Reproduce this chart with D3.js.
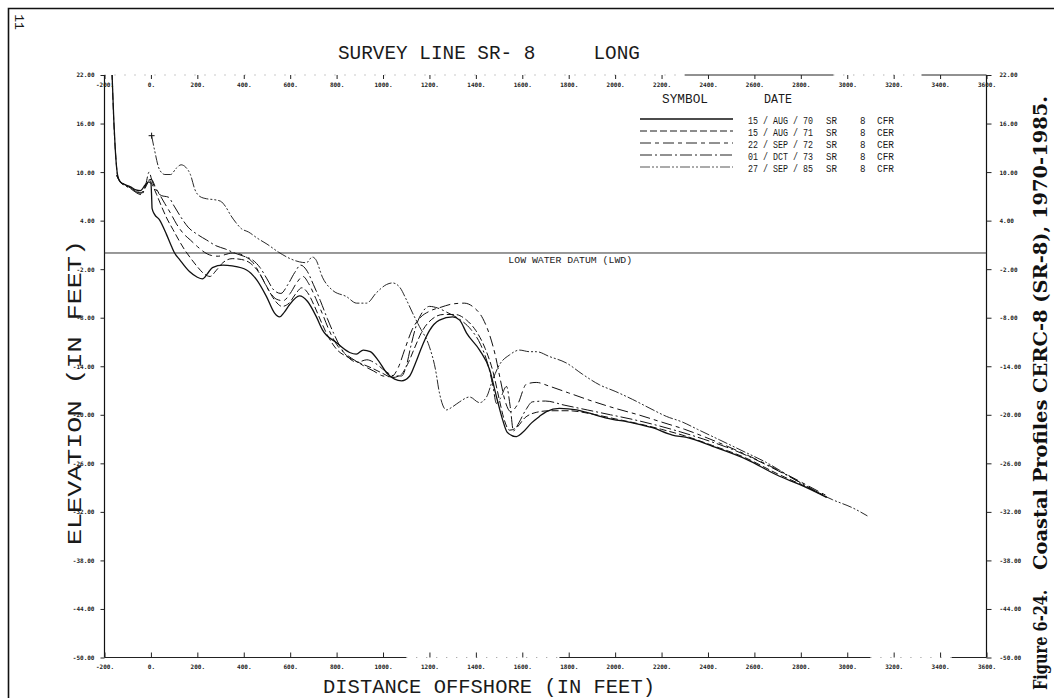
<!DOCTYPE html>
<html>
  <head>
    <meta charset="utf-8">
    <title>Survey line SR-8</title>
    <script src="https://d3js.org/d3.v7.min.js"></script>
    <style>
      body { margin: 0; background: #fff; }
      svg text { font-family: "Liberation Mono", "DejaVu Sans Mono", monospace; fill: #1a1a1a; }
      .tick text { font-family: "DejaVu Sans Mono", monospace; font-size: 6px; font-weight: bold; fill: #222; }
      .tick line { stroke: #222; }
      .domain { display: none; }
      .profile { fill: none; stroke: #111; }
      .caption { font-family: "DejaVu Serif", "Liberation Serif", serif; font-weight: bold; font-size: 18px; fill: #111; }
    </style>
  </head>
  <body>
    <svg id="chart" width="1054" height="698"></svg>
    <script>

// ---- axis ticks
var xTicks = [-200, 0, 200, 400, 600, 800, 1000, 1200, 1400, 1600, 1800,
              2000, 2200, 2400, 2600, 2800, 3000, 3200, 3400, 3600];
var yTicks = [22, 16, 10, 4, -2, -8, -14, -20, -26, -32, -38, -44, -50];

// ---- legend text
var surveyDates = ["15 / AUG / 70", "15 / AUG / 71", "22 / SEP / 72", "01 / DCT / 73", "27 / SEP / 85"];
var surveyLines = ["SR", "SR", "SR", "SR", "SR"];
var surveyNumbers = ["8", "8", "8", "8", "8"];
var surveyAgency = ["CFR", "CER", "CER", "CFR", "CFR"];

// ---- profiles [distance offshore (ft), elevation (ft)]
var p1970 = [[-172,26],[-166,21],[-160,16.5],[-154,13],[-148,10.6],[-142,9.4],[-132,8.8],[-115,8.5],[-90,8.2],
  [-65,7.8],[-45,7.7],[-25,8.4],[-10,8.8],[0,8.6],[3,7.0],[5,5.5],[15,4.8],[37,4.1],[67,2.3],[89,0.8],[102,0.0],
  [123,-0.8],[166,-2.3],[200,-3.0],[222,-3.2],[245,-2.5],[265,-1.8],[310,-1.5],[350,-1.6],[412,-2.1],[455,-3.3],
  [498,-5.4],[532,-7.4],[554,-7.9],[575,-7.3],[597,-6.4],[640,-5.3],[675,-6.0],[713,-7.9],[739,-9.5],[800,-11.1],
  [856,-12.3],[885,-12.5],[915,-12.0],[945,-12.2],[980,-13.3],[1015,-14.8],[1050,-15.6],[1080,-15.8],[1115,-15.2],
  [1140,-13.6],[1170,-11.4],[1200,-9.6],[1243,-8.3],[1300,-7.9],[1330,-8.3],[1360,-9.9],[1416,-12.0],[1459,-14.4],
  [1489,-17.8],[1515,-20.6],[1536,-22.2],[1575,-22.7],[1601,-22.2],[1640,-21.0],[1674,-20.2],[1704,-19.6],
  [1760,-19.2],[1834,-19.4],[1877,-19.7],[1963,-20.4],[2075,-21.0],[2161,-21.6],[2247,-22.5],[2308,-22.8],
  [2420,-23.9],[2566,-25.5],[2708,-27.6],[2794,-28.6],[2911,-30.2]];

var p1971 = [[-172,26],[-165,20],[-158,15],[-151,11.8],[-144,9.6],[-132,8.8],[-110,8.4],[-85,8.0],[-60,7.6],
  [-40,7.4],[-20,8.3],[-6,9.0],[8,8.3],[25,7.2],[45,5.8],[70,4.2],[95,2.9],[120,1.6],[145,0.4],[170,-0.6],
  [200,-1.7],[230,-2.6],[255,-2.9],[280,-2.2],[310,-1.2],[350,-0.7],[390,-0.8],[430,-1.3],[465,-2.4],[500,-4.2],
  [535,-5.9],[565,-6.6],[595,-6.2],[625,-5.0],[650,-4.3],[675,-4.9],[705,-6.6],[735,-8.6],[765,-10.4],[800,-11.9],
  [850,-12.9],[900,-13.6],[950,-14.2],[1000,-14.9],[1040,-15.4],[1075,-15.1],[1105,-13.8],[1135,-11.8],
  [1170,-9.6],[1210,-8.2],[1260,-7.6],[1310,-7.6],[1360,-8.3],[1400,-9.6],[1440,-11.8],[1475,-14.8],[1500,-18.0],
  [1520,-20.4],[1545,-21.9],[1575,-21.6],[1610,-20.4],[1660,-19.7],[1720,-19.5],[1800,-19.5],[1900,-19.9],
  [2000,-20.5],[2100,-21.1],[2200,-21.8],[2300,-22.6],[2420,-23.8],[2560,-25.3],[2700,-27.3],[2800,-28.6],
  [2911,-30.1]];

var p1972 = [[-148,9.6],[-135,8.9],[-115,8.4],[-90,8.1],[-65,7.6],[-45,7.4],[-25,8.2],[-10,9.0],[2,9.1],[20,8.1],
  [40,7.1],[60,6.1],[85,4.9],[110,3.6],[140,2.4],[170,1.6],[200,0.8],[230,0.1],[260,-0.3],[290,-0.4],[320,-0.2],
  [350,0.0],[380,-0.1],[410,-0.5],[440,-1.2],[470,-2.6],[505,-4.5],[540,-5.7],[570,-5.9],[600,-5.0],[630,-3.6],
  [655,-2.9],[680,-3.8],[710,-5.6],[740,-7.6],[770,-9.7],[800,-11.3],[840,-12.5],[880,-13.3],[920,-14.0],
  [960,-14.6],[1000,-15.2],[1035,-15.3],[1065,-14.2],[1095,-11.8],[1125,-9.5],[1160,-8.0],[1200,-7.2],
  [1250,-6.7],[1300,-6.3],[1350,-6.2],[1390,-6.7],[1430,-8.1],[1460,-10.2],[1485,-12.8],[1505,-15.6],
  [1525,-18.2],[1550,-19.6],[1580,-18.7],[1618,-16.2],[1660,-16.0],[1720,-16.5],[1800,-17.3],[1900,-18.3],
  [2000,-19.2],[2100,-20.0],[2200,-20.9],[2300,-21.8],[2400,-22.9],[2500,-24.1],[2600,-25.4],[2700,-26.8],
  [2800,-28.3],[2911,-30.0]];

var p1973 = [[-148,9.6],[-130,8.7],[-110,8.3],[-85,7.9],[-60,7.4],[-40,7.2],[-22,8.5],[-8,10.0],[4,9.0],[20,7.9],
  [45,7.1],[75,6.9],[100,5.8],[130,4.4],[160,3.2],[200,2.3],[240,1.6],[280,0.9],[320,0.5],[360,0.0],[400,-0.4],
  [440,-0.9],[470,-1.8],[500,-3.2],[530,-4.6],[560,-5.0],[590,-3.9],[620,-2.4],[645,-1.5],[670,-2.1],[700,-3.9],
  [730,-5.9],[760,-8.1],[790,-10.1],[820,-11.8],[850,-12.9],[890,-13.5],[930,-13.2],[970,-13.7],[1010,-14.6],
  [1050,-15.2],[1080,-15.2],[1100,-14.0],[1120,-11.5],[1145,-8.8],[1170,-7.3],[1200,-6.6],[1235,-6.8],
  [1280,-7.4],[1330,-8.2],[1380,-9.5],[1420,-11.3],[1450,-13.6],[1472,-16.2],[1489,-18.6],[1505,-18.0],
  [1532,-16.5],[1548,-19.0],[1562,-22.0],[1585,-21.0],[1615,-19.4],[1644,-18.4],[1700,-18.3],[1780,-18.8],
  [1880,-19.4],[1980,-20.0],[2080,-20.6],[2180,-21.3],[2280,-22.1],[2380,-23.0],[2480,-24.0],[2580,-25.2],
  [2680,-26.6],[2800,-28.4],[2911,-30.2]];

var p1985 = [[3,14.5],[15,12.8],[37,10.3],[60,9.7],[85,9.7],[110,10.5],[130,10.9],[150,10.6],[170,9.7],[190,7.8],
  [210,7.0],[240,6.7],[270,6.6],[300,6.4],[320,5.8],[345,4.6],[365,3.8],[390,3.0],[420,2.6],[460,1.8],[500,1.1],
  [550,0.1],[600,-0.7],[640,-1.1],[670,-1.2],[695,-0.5],[710,-0.8],[739,-3.0],[782,-4.6],[843,-5.4],[886,-6.2],
  [929,-6.2],[972,-4.9],[1015,-3.9],[1041,-3.7],[1071,-4.2],[1101,-5.8],[1127,-7.4],[1157,-9.1],[1200,-11.6],
  [1226,-14.4],[1243,-17.3],[1273,-19.4],[1300,-19.0],[1330,-18.4],[1373,-17.8],[1416,-18.5],[1446,-17.8],
  [1472,-15.7],[1502,-13.8],[1545,-12.6],[1588,-12.0],[1631,-12.2],[1661,-12.2],[1717,-12.8],[1790,-13.6],
  [1860,-15.0],[1933,-16.3],[2000,-17.1],[2075,-18.1],[2150,-19.2],[2221,-20.2],[2290,-20.9],[2355,-21.8],
  [2450,-23.1],[2566,-24.7],[2652,-25.9],[2751,-27.6],[2850,-29.3],[2937,-30.5],[3023,-31.5],[3087,-32.5]];

var profiles = [p1970, p1971, p1972, p1973, p1985];

// line styles for each survey
var dashes = ["none", "7,3", "11,4,4,4", "12,3,2,3", "10,2,2,2,2,2"];
var strokeW = [1.3, 1.0, 1.0, 1.0, 0.9];
var strokeC = ["#111", "#1a1a1a", "#222", "#222", "#444"];

// ---- layout
var svg = d3.select("#chart"),
    width = +svg.attr("width"),
    height = +svg.attr("height");

var plotLeft = 104.5, plotRight = 986.5, plotTop = 75, plotBottom = 657.5;

svg.append("rect").attr("width", width).attr("height", height).attr("fill", "#fff");

var x = d3.scaleLinear().domain([-200, 3600]).range([plotLeft, plotRight]);
var y = d3.scaleLinear().domain([-50, 22]).range([plotBottom, plotTop]);

var fmtX = function(d) { return d + "."; };
var fmtY = function(d) { return d.toFixed(2); };

// narrow plotter lettering: mono font squeezed sideways
function plotText(px, py, str, size, w) {
  var natural = str.length * 0.6 * size;
  return svg.append("text")
    .attr("transform", "translate(" + px + "," + py + ") scale(" + (w / natural).toFixed(3) + ",1)")
    .style("font-size", size + "px")
    .style("white-space", "pre")
    .text(str);
}

// page border and page number
svg.append("path")
  .attr("d", "M8.5," + height + "V8.5H" + width)
  .attr("fill", "none").attr("stroke", "#111").attr("stroke-width", 1.6);
svg.append("text")
  .attr("transform", "translate(15,22) rotate(90)")
  .attr("text-anchor", "middle")
  .style("font-size", "13px")
  .text("11");

// axis lines (scan left the top and part of the bottom broken)
function axisRun(yPos, from, to, dotted) {
  svg.append("line")
    .attr("x1", x(from)).attr("x2", x(to))
    .attr("y1", yPos).attr("y2", yPos)
    .attr("stroke", dotted ? "#777" : "#222")
    .attr("stroke-width", dotted ? 0.8 : 1)
    .attr("stroke-dasharray", dotted ? "1,9" : null);
}
axisRun(plotBottom, -200, 1100, false);
axisRun(plotBottom, 1100, 1760, true);
axisRun(plotBottom, 1760, 3100, false);
axisRun(plotBottom, 3100, 3450, true);
axisRun(plotBottom, 3450, 3600, false);
axisRun(plotTop, -200, 2300, true);
axisRun(plotTop, 2300, 2940, false);
axisRun(plotTop, 2940, 3320, true);
axisRun(plotTop, 3320, 3600, false);

svg.append("line").attr("x1", plotLeft).attr("x2", plotLeft)
  .attr("y1", plotTop).attr("y2", plotBottom).attr("stroke", "#111").attr("stroke-width", 1.2);
svg.append("line").attr("x1", plotRight).attr("x2", plotRight)
  .attr("y1", plotTop).attr("y2", plotBottom).attr("stroke", "#111").attr("stroke-width", 1.2);

// ticks
svg.append("g")
  .attr("transform", "translate(0," + plotBottom + ")")
  .call(d3.axisBottom(x).tickValues(xTicks).tickFormat(fmtX).tickSizeInner(-5).tickSizeOuter(0).tickPadding(7));
svg.append("g")
  .attr("transform", "translate(0," + plotTop + ")")
  .call(d3.axisBottom(x).tickValues(xTicks).tickFormat(fmtX).tickSizeInner(4).tickSizeOuter(0).tickPadding(4));
svg.append("g")
  .attr("transform", "translate(" + plotLeft + ",0)")
  .call(d3.axisLeft(y).tickValues(yTicks).tickFormat(fmtY).tickSizeInner(4).tickSizeOuter(0).tickPadding(6));
svg.append("g")
  .attr("transform", "translate(" + plotRight + ",0)")
  .call(d3.axisRight(y).tickValues(yTicks).tickFormat(fmtY).tickSizeInner(5).tickSizeOuter(0).tickPadding(8));

// low water datum
svg.append("line")
  .attr("x1", plotLeft).attr("x2", plotRight)
  .attr("y1", y(0)).attr("y2", y(0))
  .attr("stroke", "#333").attr("stroke-width", 1);
plotText(x(1540), y(0) + 10, "LOW WATER DATUM (LWD)", 9, 124);

// profiles
svg.append("clipPath").attr("id", "plot-clip")
  .append("rect")
  .attr("x", plotLeft).attr("y", plotTop)
  .attr("width", plotRight - plotLeft).attr("height", plotBottom - plotTop);

var line = d3.line()
  .x(function(d) { return x(d[0]); })
  .y(function(d) { return y(d[1]); })
  .curve(d3.curveMonotoneX);

svg.append("g")
  .attr("clip-path", "url(#plot-clip)")
  .selectAll("path")
  .data(profiles)
  .enter()
  .append("path")
    .attr("class", "profile")
    .attr("d", line)
    .attr("stroke", function(d, i) { return strokeC[i]; })
    .attr("stroke-width", function(d, i) { return strokeW[i]; })
    .attr("stroke-dasharray", function(d, i) { return dashes[i]; });

// start marker of the 1985 survey
var p0 = p1985[0];
svg.append("path")
  .attr("d", "M" + (x(p0[0]) - 3) + "," + y(p0[1]) + "h6M" + x(p0[0]) + "," + (y(p0[1]) - 3) + "v6")
  .attr("stroke", "#111").attr("stroke-width", 1);

// title and axis titles
plotText(338, 59, "SURVEY LINE SR- 8     LONG", 19.5, 302);
plotText(323, 693, "DISTANCE OFFSHORE (IN FEET)", 19.5, 332);

svg.append("text")
  .attr("transform", "translate(81,545) rotate(-90)")
  .attr("textLength", 305).attr("lengthAdjust", "spacingAndGlyphs")
  .style("font-size", "20px")
  .text("ELEVATION (IN FEET)");

// legend
plotText(662, 103, "SYMBOL", 12.5, 46);
plotText(764, 103, "DATE", 12.5, 28);

var rowY = function(i) { return 119 + i * 12; };

svg.append("g").selectAll("line")
  .data(surveyDates)
  .enter()
  .append("line")
    .attr("x1", 640).attr("x2", 733)
    .attr("y1", function(d, i) { return rowY(i); })
    .attr("y2", function(d, i) { return rowY(i); })
    .attr("stroke", function(d, i) { return strokeC[i]; })
    .attr("stroke-width", function(d, i) { return strokeW[i]; })
    .attr("stroke-dasharray", function(d, i) { return dashes[i]; });

surveyDates.forEach(function(d, i) {
  plotText(748, rowY(i) + 4.5, d, 11.5, 65);
  plotText(826, rowY(i) + 4.5, surveyLines[i], 11.5, 11);
  plotText(860, rowY(i) + 4.5, surveyNumbers[i], 11.5, 5.5);
  plotText(877, rowY(i) + 4.5, surveyAgency[i], 11.5, 17);
});

// figure caption along the right edge
svg.append("text")
  .attr("class", "caption")
  .attr("transform", "translate(1047,690) rotate(-90)")
  .attr("textLength", 100).attr("lengthAdjust", "spacingAndGlyphs")
  .text("Figure 6-24.");
svg.append("text")
  .attr("class", "caption")
  .attr("transform", "translate(1047,96) rotate(-90)")
  .attr("text-anchor", "end")
  .attr("textLength", 474).attr("lengthAdjust", "spacingAndGlyphs")
  .text("Coastal Profiles CERC-8 (SR-8), 1970-1985.");

    </script>
  </body>
</html>
